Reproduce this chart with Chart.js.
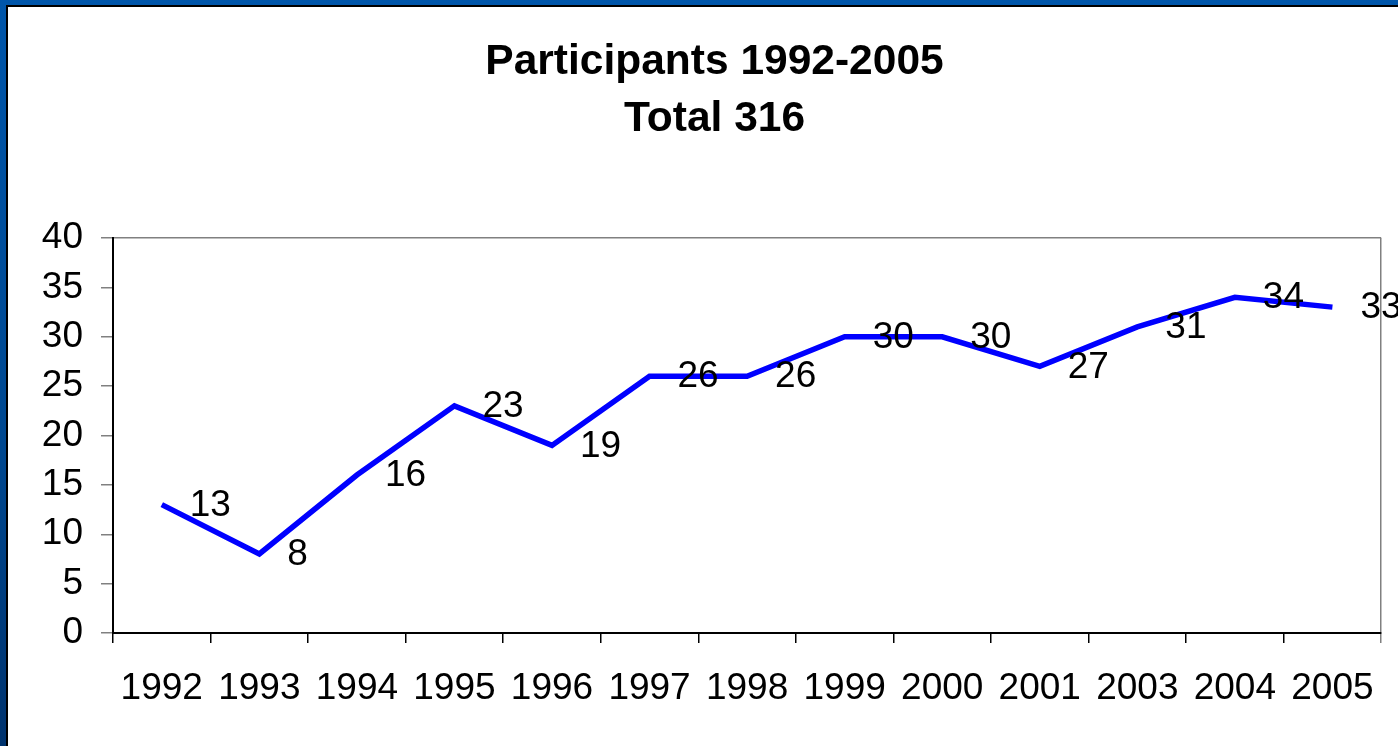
<!DOCTYPE html>
<html>
<head>
<meta charset="utf-8">
<title>Participants 1992-2005</title>
<script src="https://cdn.jsdelivr.net/npm/chart.js@4"></script>
<style>
    html, body {
        margin: 0;
        padding: 0;
        width: 1398px;
        height: 746px;
        overflow: hidden;
        background: linear-gradient(to bottom, #0056aa 0%, #004890 60%, #00336e 100%);
    }
    #slide {
        position: absolute;
        left: 6px;
        top: 5px;
        width: 1392px;
        height: 741px;
        background: #ffffff;
        border-left: 2px solid #000;
        border-top: 2px solid #000;
    }
    #chart {
        position: absolute;
        left: 0;
        top: 0;
    }
</style>
</head>
<body>
<div id="slide"></div>
<canvas id="chart" width="1398" height="746"></canvas>
<script>
    // Chart data
    var years = ["1992", "1993", "1994", "1995", "1996", "1997", "1998", "1999", "2000", "2001", "2003", "2004", "2005"];
    var participants = [13, 8, 16, 23, 19, 26, 26, 30, 30, 27, 31, 34, 33];
    var titleLines = ["Participants 1992-2005", "Total 316"];

    var fontFamily = "'Liberation Sans', Arial, sans-serif";

    // Plugin to write the value next to each point
    var valueLabels = {
        id: "valueLabels",
        afterDatasetsDraw: function (chart) {
            var ctx = chart.ctx;
            var meta = chart.getDatasetMeta(0);
            ctx.save();
            ctx.font = "37px " + fontFamily;
            ctx.fillStyle = "#000";
            ctx.textAlign = "left";
            ctx.textBaseline = "middle";
            meta.data.forEach(function (point, i) {
                ctx.fillText(String(participants[i]), point.x + 28, point.y + 1);
            });
            ctx.restore();
        }
    };

    new Chart(document.getElementById("chart"), {
        type: "line",
        data: {
            labels: years,
            datasets: [
                {
                    data: participants,
                    borderColor: "#0000ff",
                    borderWidth: 5.5,
                    borderJoinStyle: "miter",
                    pointRadius: 0,
                    tension: 0,
                    fill: false
                }
            ]
        },
        options: {
            responsive: false,
            animation: false,
            layout: {
                padding: { left: 42, right: 11, top: 0, bottom: 0 }
            },
            plugins: {
                legend: { display: false },
                tooltip: { enabled: false },
                title: {
                    display: true,
                    text: titleLines,
                    color: "#000",
                    font: { family: fontFamily, size: 42.5, weight: "bold", lineHeight: 57 / 42.5 },
                    padding: { top: 34, bottom: 90 }
                }
            },
            scales: {
                x: {
                    offset: true,
                    afterFit: function (scale) { scale.height = 113; },
                    grid: {
                        offset: true,
                        drawOnChartArea: true,
                        tickLength: 10,
                        lineWidth: 1.5,
                        color: function (c) { return c.tick ? "rgba(0,0,0,0)" : "#808080"; },
                        tickColor: function (c) { return c.tick ? "#000" : "#808080"; }
                    },
                    border: { display: true, color: "#000", width: 2 },
                    ticks: {
                        color: "#000",
                        padding: 24,
                        maxRotation: 0,
                        autoSkip: false,
                        font: { family: fontFamily, size: 37 }
                    }
                },
                y: {
                    min: 0,
                    max: 40,
                    afterFit: function (scale) { scale.width = 71; },
                    grid: {
                        drawOnChartArea: true,
                        tickLength: 12,
                        lineWidth: 1.5,
                        color: function (c) { return c.tick && c.tick.value === 40 ? "#808080" : "rgba(0,0,0,0)"; },
                        tickColor: "#808080"
                    },
                    border: { display: true, color: "#000", width: 2 },
                    ticks: {
                        stepSize: 5,
                        color: "#000",
                        padding: 18,
                        font: { family: fontFamily, size: 37 }
                    }
                }
            }
        },
        plugins: [valueLabels]
    });
</script>
</body>
</html>
